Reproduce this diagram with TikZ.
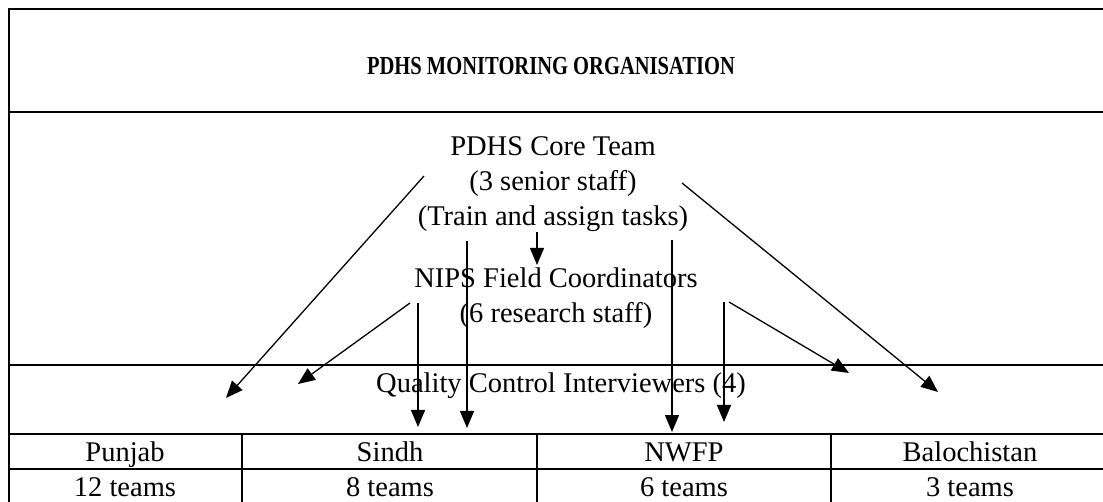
\documentclass[tikz,border=0pt]{standalone}
\usepackage{fontspec}
\setmainfont{Liberation Serif}
\usetikzlibrary{arrows.meta}
\begin{document}
\begin{tikzpicture}[x=1pt,y=-1pt,
  frame/.style={line width=2.2pt, line cap=rect},
  link/.style={line width=1.3pt, -{Triangle[length=17pt,width=14pt]}},
  body/.style={font=\fontsize{28.5}{35}\selectfont, align=center, inner sep=0pt},
  cell/.style={font=\fontsize{28.5}{35}\selectfont, inner sep=0pt, anchor=base},
  heading/.style={font=\fontsize{26}{30}\selectfont\bfseries, inner sep=0pt}]
\useasboundingbox (0,0) rectangle (1103,502);

% outer frame and band separators
\draw[frame] (1112,9) -- (9,9) -- (9,512);
\foreach \yy in {112,365,434,469}
  \draw[frame] (9,\yy) -- (1112,\yy);
% column separators of the regional table
\foreach \xx in {242,537,831}
  \draw[frame] (\xx,434) -- (\xx,512);

% texts
\node[heading] (title) at (551,66) {\scalebox{0.79}[1]{PDHS MONITORING ORGANISATION}};
\node[body] (core) at (553,184) {PDHS Core Team\\(3 senior staff)\\(Train and assign tasks)};
\node[body] (nips) at (556,298) {NIPS Field Coordinators\\(6 research staff)};
\node[body] (qc) at (561,386) {Quality Control Interviewers (4)};

\node[cell] (punjab) at (125,461) {Punjab};
\node[cell] (sindh) at (390,461) {Sindh};
\node[cell] (nwfp) at (684,461) {NWFP};
\node[cell] (balo) at (970,461) {Balochistan};
\node[cell] (punjabT) at (125,496) {12 teams};
\node[cell] (sindhT) at (390,496) {8 teams};
\node[cell] (nwfpT) at (684,496) {6 teams};
\node[cell] (baloT) at (970,496) {3 teams};

% arrow end points
\coordinate (c1s) at (424,176);  \coordinate (c1e) at (226,398);
\coordinate (c2s) at (682,183);  \coordinate (c2e) at (938,392);
\coordinate (c3s) at (467,241);  \coordinate (c3e) at (467,428);
\coordinate (c4s) at (672,240);  \coordinate (c4e) at (672,432);
\coordinate (c5s) at (537,232);  \coordinate (c5e) at (537,265);
\coordinate (n1s) at (410,303);  \coordinate (n1e) at (298,384);
\coordinate (n2s) at (729,302);  \coordinate (n2e) at (849,373);
\coordinate (n3s) at (418,303);  \coordinate (n3e) at (418,427);
\coordinate (n4s) at (724,302);  \coordinate (n4e) at (724,422);

% connectors from the core team
\draw[link] (c1s) -- (c1e);
\draw[link] (c2s) -- (c2e);
\draw[link] (c3s) -- (c3e);
\draw[link] (c4s) -- (c4e);
\draw[link] (c5s) -- (c5e);
% connectors from the field coordinators
\draw[link] (n1s) -- (n1e);
\draw[link] (n2s) -- (n2e);
\draw[link] (n3s) -- (n3e);
\draw[link] (n4s) -- (n4e);
\end{tikzpicture}
\end{document}
